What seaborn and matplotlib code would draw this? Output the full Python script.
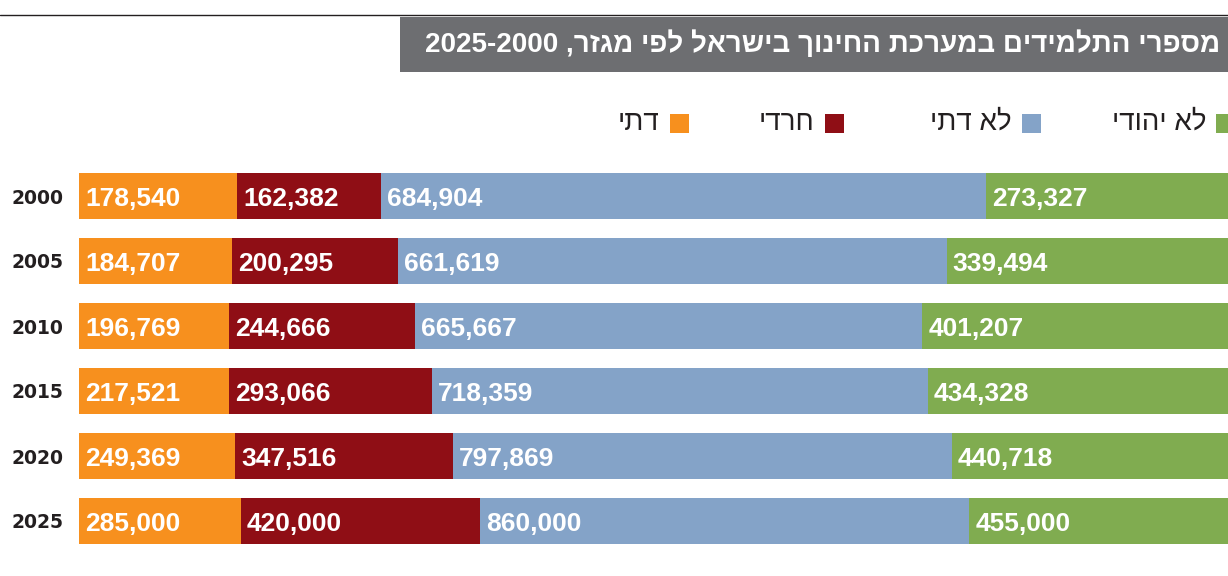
"""
מספרי התלמידים במערכת החינוך בישראל לפי מגזר - גרף עמודות אופקי מוערם (100%)
"""
import numpy as np
import pandas as pd
import matplotlib
matplotlib.use('Agg')
import matplotlib.pyplot as plt
import matplotlib.transforms as mtransforms
from matplotlib.patches import Rectangle
import seaborn as sns

# data
years = ['2000', '2005', '2010', '2015', '2020', '2025']
dati = [178540, 184707, 196769, 217521, 249369, 285000]
haredi = [162382, 200295, 244666, 293066, 347516, 420000]
lo_dati = [684904, 661619, 665667, 718359, 797869, 860000]
lo_yehudi = [273327, 339494, 401207, 434328, 440718, 455000]

sectors = ['דתי', 'חרדי', 'לא דתי', 'לא יהודי']
colors = ['#F7901E', '#8F0E15', '#84A3C8', '#80AC50']
title_text = 'מספרי התלמידים במערכת החינוך בישראל לפי מגזר'
title_years = '2025-2000'

sns.set_theme(style='white')
FONT = ['Liberation Sans', 'DejaVu Sans']
plt.rcParams['font.family'] = FONT


def rtl(s):
    # matplotlib has no bidi support: give the visual order
    return s[::-1]


df = pd.DataFrame({'year': years, sectors[0]: dati, sectors[1]: haredi,
                   sectors[2]: lo_dati, sectors[3]: lo_yehudi})
values = df[sectors].to_numpy(float)
share = values / values.sum(axis=1, keepdims=True)
cum = share.cumsum(axis=1)
left = cum - share

W, H = 1228, 576
fig = plt.figure(figsize=(W / 100, H / 100), dpi=100)
ax = fig.add_axes([79 / W, 1 - 553.5 / H, 1149 / W, 390 / H])

# stacked bars: cumulative totals drawn from largest to smallest
for i in reversed(range(len(sectors))):
    sns.barplot(x=cum[:, i], y=df['year'], orient='h', color=colors[i],
                saturation=1, width=0.71, linewidth=0, ax=ax)

trans = mtransforms.offset_copy(ax.transData, fig=fig, x=6, y=-10, units='dots')
for r in range(len(years)):
    for i in range(len(sectors)):
        ax.text(left[r, i], r, f'{values[r, i]:,.0f}', transform=trans,
                ha='left', va='baseline', color='white', fontsize=19,
                fontweight='bold')

ax.set_xlim(0, 1)
ax.set_xlabel('')
ax.set_ylabel('')
ax.set_xticks([])
sns.despine(ax=ax, left=True, bottom=True)
ax.tick_params(axis='y', length=0, pad=11)
for lbl in ax.get_yticklabels():
    lbl.set_fontsize(13.5)
    lbl.set_fontweight('bold')
    lbl.set_color('#231F20')
    lbl.set_family(['DejaVu Sans'])

# top rule + title box
fig.add_artist(plt.Line2D([0, 1], [1 - 15 / H, 1 - 15 / H], transform=fig.transFigure,
                          color='#231F20', linewidth=1))
fig.add_artist(Rectangle((400 / W, 1 - 72 / H), 828 / W, 55 / H,
                         transform=fig.transFigure, color='#6D6E71', linewidth=0))
fig.text(1220 / W, 1 - 44 / H, title_years + ' ,' + rtl(title_text),
         ha='right', va='center', color='white', fontsize=20, fontweight='bold')

# legend (right to left)
square_x = [670, 825, 1022, 1216]
label_right = [659, 814, 1012, 1206]
for i, name in enumerate(sectors):
    fig.add_artist(Rectangle((square_x[i] / W, 1 - 133 / H), 19 / W, 19 / H,
                             transform=fig.transFigure, color=colors[i], linewidth=0))
    fig.text(label_right[i] / W, 1 - 123 / H, rtl(name), ha='right', va='center',
             color='#231F20', fontsize=20)

fig.savefig('out.png', dpi=100)
